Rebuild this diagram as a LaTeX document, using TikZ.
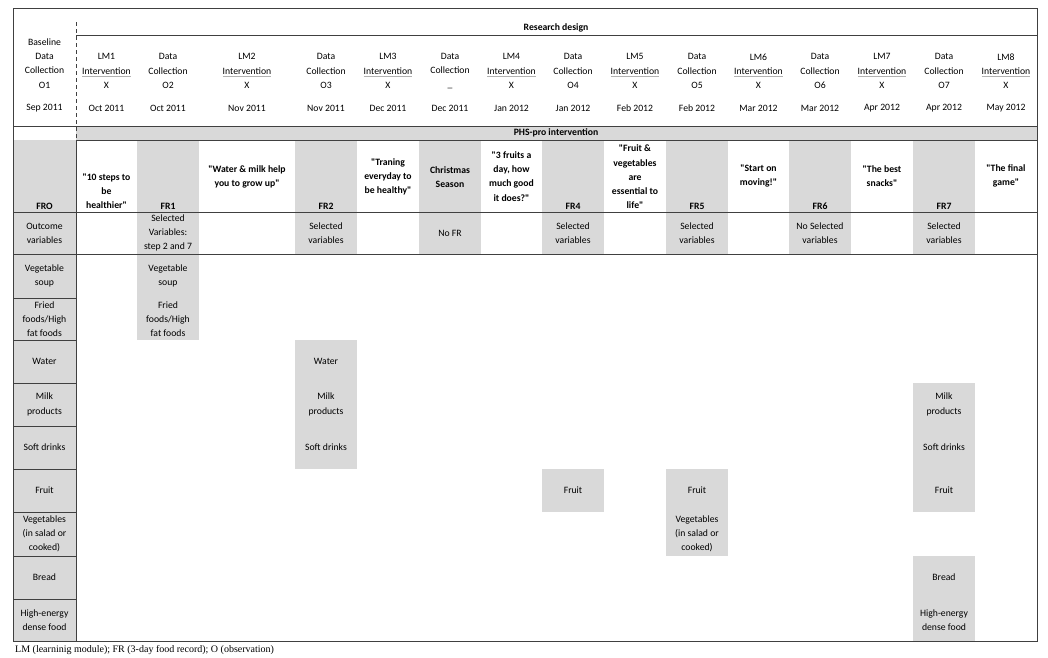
\documentclass[tikz,border=0pt]{standalone}
\usepackage{fontspec}
\setmainfont{Carlito}[Ligatures=TeXOff]
\newfontfamily\notefont{Liberation Serif}
\usetikzlibrary{positioning}
\tikzset{
  txt/.style={align=center, inner sep=0pt, font=\fontsize{9.7}{14.2}\selectfont},
  bold/.style={txt, font=\fontsize{9.7}{14.2}\selectfont\bfseries},
  shade/.style={fill=black!15},
  rule/.style={draw=black!75, line width=0.8pt},
}
\newcommand{\ulgray}[1]{\setbox0\hbox{#1}\rlap{\color{black!30}\rule[-2pt]{\wd0}{0.6pt}}\box0}

\begin{document}
\begin{tikzpicture}[x=1pt, y=-1pt]
            % Research design table
            \useasboundingbox (0,0) rectangle (1048,657);
            \fill[shade] (76,126) rectangle (1037,140);
            \fill[shade] (13,140) rectangle (76,641);
            \foreach \a/\b in {137/199, 295/357, 419/481, 542/604, 666/728, 789/851, 913/975}
                \fill[shade] (\a,140) rectangle (\b,254);
            \fill[shade] (137,254) rectangle (199,340);
            \fill[shade] (295,340) rectangle (357,469);
            \fill[shade] (542,469) rectangle (604,512);
            \fill[shade] (666,469) rectangle (728,556);
            \fill[shade] (913,383) rectangle (975,512);
            \fill[shade] (913,556) rectangle (975,641);

            \draw[rule] (13,8) rectangle (1037,641);
            \draw[rule] (76,35) -- (1037,35);
            \draw[rule] (13,126) -- (1037,126);
            \draw[rule] (76,140) -- (1037,140);
            \draw[rule] (13,212) -- (1037,212);
            \draw[rule] (13,254) -- (1037,254);
            \draw[rule] (76,140) -- (76,641);
            \foreach \y in {298,340,383,426,469,512,556,599}
                \draw[rule] (13,\y) -- (76,\y);
            \draw[rule, dash pattern=on 3.5pt off 3.5pt] (76,22) -- (76,140);

            \node[bold] (design) at (556,28) {Research design};
            \node[txt] (base) at (44.5,63.5) {Baseline\\Data\\Collection\\O1};
            \node[txt] (base date) at (44.5,108) {Sep 2011};
            \foreach \i/\x/\d in {1/106.5/Oct 2011, 2/247/Nov 2011, 3/388/Dec 2011, 4/511.5/Jan 2012,
                                  5/635/Feb 2012, 6/758.5/Mar 2012, 7/882/Apr 2012, 8/1006/May 2012} {
                \node[txt] (lm\i) at (\x,71) {LM\i\\\ulgray{Intervention}\\X};
                \node[txt] (lm\i date) at (\x,108) {\d};
            }
            \foreach \i/\o/\x/\d in {2/O2/168/Oct 2011, 3/O3/326/Nov 2011, x/\_/450/Dec 2011, 4/O4/573/Jan 2012,
                                     5/O5/697/Feb 2012, 6/O6/820/Mar 2012, 7/O7/944/Apr 2012} {
                \node[txt] (dc\i) at (\x,71) {Data\\Collection\\\o};
                \node[txt] (dc\i date) at (\x,108) {\d};
            }
            \node[bold] (phs) at (556,133) {PHS-pro intervention};

            \node[bold] (fr0) at (44.5,206) {FRO};
            \foreach \i/\x in {1/168, 2/326, 4/573, 5/697, 6/820, 7/944}
                \node[bold] (fr\i) at (\x,206) {FR\i};
            \node[bold] (q1) at (106.5,191.5) {"10 steps to\\be\\healthier"};
            \node[bold] (q2) at (247,177) {"Water \& milk help\\you to grow up"};
            \node[bold] (q3) at (388,177) {"Traning\\everyday to\\be healthy"};
            \node[bold] (xmas) at (450,177) {Christmas\\Season};
            \node[bold] (q4) at (511.5,176.5) {"3 fruits a\\day, how\\much good\\it does?"};
            \node[bold] (q5) at (635,177) {"Fruit \&\\vegetables\\are\\essential to\\life"};
            \node[bold] (q6) at (758.5,176) {"Start on\\moving!"};
            \node[bold] (q7) at (882,176) {"The best\\snacks"};
            \node[bold] (q8) at (1006,176) {"The final\\game"};

            \node[txt] (out0) at (44.5,233) {Outcome\\variables};
            \node[txt] (out1) at (168,233) {Selected\\Variables:\\step 2 and 7};
            \node[txt] (out2) at (326,233) {Selected\\variables};
            \node[txt] (out3) at (450,233) {No FR};
            \node[txt] (out4) at (573,233) {Selected\\variables};
            \node[txt] (out5) at (697,233) {Selected\\variables};
            \node[txt] (out6) at (820,233) {No Selected\\variables};
            \node[txt] (out7) at (944,233) {Selected\\variables};

            \node[txt] (soup) at (44.5,276) {Vegetable\\soup};
            \node[txt] (fried) at (44.5,319) {Fried\\foods/High\\fat foods};
            \node[txt] (water) at (44.5,361.5) {Water};
            \node[txt] (milk) at (44.5,404.5) {Milk\\products};
            \node[txt] (soft) at (44.5,447.5) {Soft drinks};
            \node[txt] (fruit) at (44.5,490.5) {Fruit};
            \node[txt] (veg) at (44.5,534) {Vegetables\\(in salad or\\cooked)};
            \node[txt] (bread) at (44.5,577.5) {Bread};
            \node[txt] (energy) at (44.5,620) {High-energy\\dense food};

            \node[txt] (soup1) at (fr1 |- soup) {Vegetable\\soup};
            \node[txt] (fried1) at (fr1 |- fried) {Fried\\foods/High\\fat foods};
            \node[txt] (water2) at (fr2 |- water) {Water};
            \node[txt] (milk2) at (fr2 |- milk) {Milk\\products};
            \node[txt] (soft2) at (fr2 |- soft) {Soft drinks};
            \node[txt] (fruit4) at (fr4 |- fruit) {Fruit};
            \node[txt] (fruit5) at (fr5 |- fruit) {Fruit};
            \node[txt] (veg5) at (fr5 |- veg) {Vegetables\\(in salad or\\cooked)};
            \node[txt] (milk7) at (fr7 |- milk) {Milk\\products};
            \node[txt] (soft7) at (fr7 |- soft) {Soft drinks};
            \node[txt] (fruit7) at (fr7 |- fruit) {Fruit};
            \node[txt] (bread7) at (fr7 |- bread) {Bread};
            \node[txt] (energy7) at (fr7 |- energy) {High-energy\\dense food};

            \node[anchor=west, inner sep=0pt, font=\notefont\fontsize{10}{12}\selectfont] (note) at (15,650)
                {LM (learninig module); FR (3-day food record); O (observation)};
        \end{tikzpicture}
\end{document}
